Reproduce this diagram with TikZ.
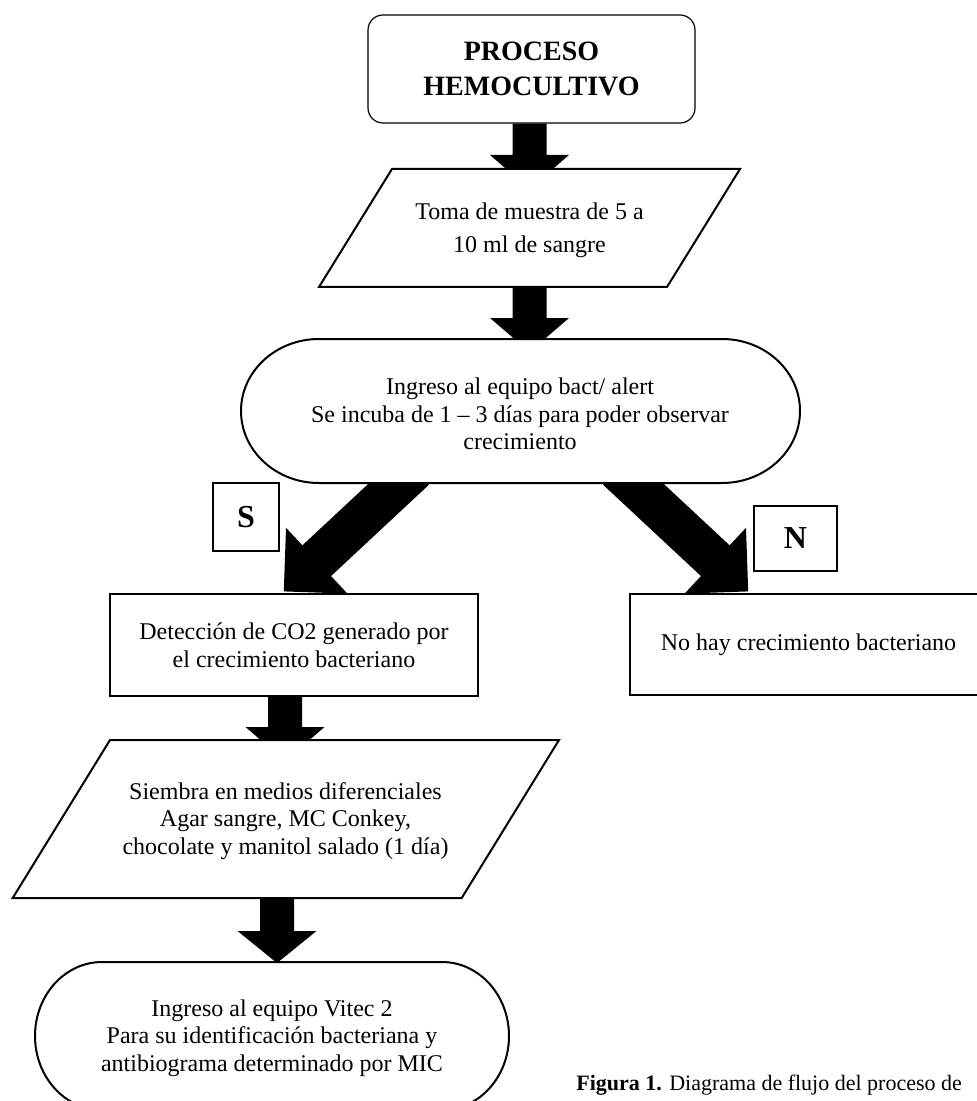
\documentclass[tikz,border=0pt]{standalone}
\usepackage{fontspec}
\setmainfont{Liberation Serif}
\usetikzlibrary{calc}
\pgfdeclarelayer{bg}
\pgfsetlayers{bg,main}
\tikzset{
  shapeline/.style={draw=black, line width=1pt, fill=white},
  thinline/.style={draw=black, line width=0.6pt, fill=white},
  bodytext/.style={font=\fontsize{12}{13.8}\selectfont, align=center, inner sep=0pt},
  tagbox/.style={shapeline, font=\fontsize{16}{19}\selectfont\bfseries, inner sep=0pt},
}
\newcommand\blockarrow[5]{% start, tip, shaft half width, head half width, head length
  \coordinate (ba-back) at ($(#2)!#5!(#1)$);
  \fill[black] ($(#1)!#3!90:(#2)$) -- ($(ba-back)!#3!90:(#2)$) -- ($(ba-back)!#4!90:(#2)$) -- (#2)
    -- ($(ba-back)!#4!-90:(#2)$) -- ($(ba-back)!#3!-90:(#2)$) -- ($(#1)!#3!-90:(#2)$) -- cycle;
}
\begin{document}
\begin{tikzpicture}[x=0.5pt, y=-0.5pt]
\useasboundingbox (0,0) rectangle (976,1101);
% title
\node[thinline, rounded corners=7.5pt, minimum width=163.5pt, minimum height=54pt, inner sep=0pt,
      align=center, font=\fontsize{14}{17.5}\selectfont\bfseries] (title) at (531.5,69) {PROCESO\\HEMOCULTIVO};
% parallelogram 1
\draw[shapeline] (392,169) -- (740,169) -- (667,287) -- (319,287) -- cycle;
\node[bodytext, font=\fontsize{12}{16.4}\selectfont] (p1) at (529.5,230) {Toma de muestra de 5 a\\10 ml de sangre};
% stadium 2
\draw[shapeline] (319,339) -- (722,339) arc[start angle=90, end angle=-90, x radius=39pt, y radius=36pt]
  -- (319,483) arc[start angle=270, end angle=90, x radius=39pt, y radius=36pt] -- cycle;
\node[bodytext] (st2) at (520,414) {Ingreso al equipo bact/ alert\\Se incuba de 1 – 3 días para poder observar\\crecimiento};
% tags
\node[tagbox, minimum width=33pt, minimum height=34pt] (S) at (246,517) {S};
\node[tagbox, minimum width=41.5pt, minimum height=32.5pt] (N) at (795.5,538.5) {N};
% CO2 box
\node[shapeline, bodytext, minimum width=184pt, minimum height=51pt] (co2) at (294,645) {Detección de CO2 generado por\\el crecimiento bacteriano};
% no growth box
\node[thinline, bodytext, minimum width=178.5pt, minimum height=50.5pt] (nohay) at (808.5,644.5) {No hay crecimiento bacteriano};
% parallelogram 2
\draw[shapeline] (110,740) -- (559,740) -- (461.7,898) -- (12.7,898) -- cycle;
\node[bodytext] (p2) at (285.5,821) {Siembra en medios diferenciales\\Agar sangre, MC Conkey,\\chocolate y manitol salado (1 día)};
% stadium 3
\draw[shapeline] (102,962) -- (442,962) arc[start angle=90, end angle=-90, x radius=33.5pt, y radius=37pt]
  -- (102,1110) arc[start angle=270, end angle=90, x radius=33.5pt, y radius=37pt] -- cycle;
\node[bodytext] (st3) at (272,1038) {Ingreso al equipo Vitec 2\\Para su identificación bacteriana y\\antibiograma determinado por MIC};
% caption
\node[anchor=base west, inner sep=0pt, font=\fontsize{11}{13}\selectfont] (cap) at (576,1090) {\textbf{Figura 1.} Diagrama de flujo del proceso de};
% arrow end points
\coordinate (a1s) at (title.south -| p1);
\coordinate (a1t) at (529.5,189);
\coordinate (a2s) at (529.5,287);
\coordinate (a2t) at (529.5,352);
\coordinate (sS) at (414.6,469.4);
\coordinate (sT) at (283.8,591.4);
\coordinate (nS) at (617.4,469.4);
\coordinate (nT) at (748.2,591.4);
\coordinate (a3s) at (285,696);
\coordinate (a3t) at (285,761);
\coordinate (a4s) at (277,898);
\coordinate (a4t) at (277,963);
\begin{pgfonlayer}{bg}
\blockarrow{a1s}{a1t}{8.5pt}{19.75pt}{17pt}
\blockarrow{a2s}{a2t}{8.5pt}{19.75pt}{17pt}
\blockarrow{sS}{sT}{10.5pt}{22.5pt}{22.5pt}
\blockarrow{nS}{nT}{10.5pt}{22.5pt}{22.5pt}
\blockarrow{a3s}{a3t}{8.5pt}{19.75pt}{17pt}
\blockarrow{a4s}{a4t}{8.5pt}{19.75pt}{16pt}
\end{pgfonlayer}
\end{tikzpicture}
\end{document}
